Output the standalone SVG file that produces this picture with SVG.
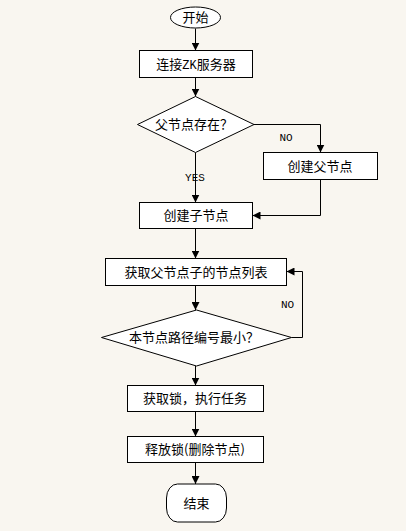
<svg xmlns="http://www.w3.org/2000/svg" width="406" height="531" viewBox="0 0 406 531">
<style>
.shape{fill:#ffffff;stroke:#000000;stroke-width:1}
.line{fill:none;stroke:#000000;stroke-width:1}
.t{font-family:"Noto Sans CJK SC","Liberation Sans",sans-serif;font-size:13px;fill:#000000;text-anchor:middle}
.lbl{font-family:"Liberation Mono","Noto Sans CJK SC",monospace;font-size:11px;fill:#000000;text-anchor:middle}
</style>
<defs>
<marker id="arr" markerUnits="userSpaceOnUse" markerWidth="8" markerHeight="8" refX="8" refY="4" orient="auto">
<path d="M0,0 L8,4 L0,8 z" fill="#000000"/>
</marker>
</defs>
<rect x="0" y="0" width="406" height="531" fill="#f9f6f0"/>
<g id="connectors">
<path class="line" d="M195.5,28.5 L195.5,50.5" marker-end="url(#arr)"/>
<path class="line" d="M195.5,77.5 L195.5,96.5" marker-end="url(#arr)"/>
<path class="line" d="M254,124.5 L320.5,124.5 L320.5,152.5" marker-end="url(#arr)"/>
<path class="line" d="M195.5,152.5 L195.5,202.5" marker-end="url(#arr)"/>
<path class="line" d="M320.5,179.5 L320.5,215.5 L252.5,215.5" marker-end="url(#arr)"/>
<path class="line" d="M195.5,228.5 L195.5,258.5" marker-end="url(#arr)"/>
<path class="line" d="M195.5,285.5 L195.5,310" marker-end="url(#arr)"/>
<path class="line" d="M291.5,337.5 L302.5,337.5 L302.5,271.5 L286.5,271.5" marker-end="url(#arr)"/>
<path class="line" d="M195.5,366 L195.5,385.5" marker-end="url(#arr)"/>
<path class="line" d="M195.5,411.5 L195.5,436.5" marker-end="url(#arr)"/>
<path class="line" d="M195.5,462.5 L195.5,484" marker-end="url(#arr)"/>
<text class="lbl" x="286" y="141">NO</text>
<text class="lbl" x="195" y="181">YES</text>
<text class="lbl" x="287.5" y="308">NO</text>
</g>
<g id="start">
<ellipse class="shape" cx="195.5" cy="17.5" rx="25" ry="10.5"/>
<text class="t" x="195.5" y="22">开始</text>
</g>
<g id="connect">
<rect class="shape" x="139.5" y="50.5" width="113" height="27"/>
<text class="t" x="196" y="68.5">连接<tspan font-family="Liberation Mono, monospace" font-size="12">ZK</tspan>服务器</text>
</g>
<g id="parentExists">
<polygon class="shape" points="195.5,96.5 254,124.5 195.5,152.5 137.5,124.5"/>
<text class="t" x="194" y="129">父节点存在？</text>
</g>
<g id="createParent">
<rect class="shape" x="263.5" y="152.5" width="114" height="27"/>
<text class="t" x="320" y="170.5">创建父节点</text>
</g>
<g id="createChild">
<rect class="shape" x="139.5" y="202.5" width="113" height="26"/>
<text class="t" x="196" y="220">创建子节点</text>
</g>
<g id="getList">
<rect class="shape" x="105.5" y="258.5" width="181" height="27"/>
<text class="t" x="196" y="276.5">获取父节点子的节点列表</text>
</g>
<g id="isMin">
<polygon class="shape" points="196.5,310 291.5,337.5 196.5,366 101.5,337.5"/>
<text class="t" x="194" y="342">本节点路径编号最小？</text>
</g>
<g id="getLock">
<rect class="shape" x="127.5" y="385.5" width="136" height="26"/>
<text class="t" x="195" y="403">获取锁，执行任务</text>
</g>
<g id="release">
<rect class="shape" x="127.5" y="436.5" width="136" height="26"/>
<text class="t" x="195" y="454">释放锁(删除节点)</text>
</g>
<g id="end">
<rect class="shape" x="166.5" y="484" width="60" height="38" rx="11" ry="14"/>
<text class="t" x="196.5" y="507.5">结束</text>
</g>
</svg>
